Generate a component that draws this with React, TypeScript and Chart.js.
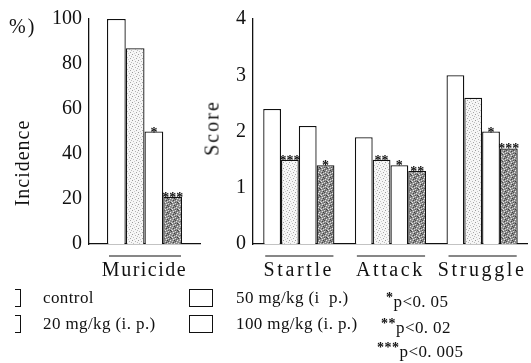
import React, { useEffect, useRef } from "react";
import { Chart, registerables } from "chart.js";

Chart.register(...registerables);

// ---------------- data ----------------
const muricideCategories = ["Muricide"];
const behaviourCategories = ["Startle", "Attack", "Struggle"];
const groupNames = ["control", "20mg/kg (i. p.)", "50mg/kg (i. p.)", "100mg/kg (i. p.)"];

const incidenceControl = [100];
const incidence20 = [87];
const incidence50 = [50];
const incidence100 = [21];

const scoreControl = [2.4, 1.9, 3.0];
const score20 = [1.5, 1.5, 2.6];
const score50 = [2.1, 1.4, 2.0];
const score100 = [1.4, 1.3, 1.7];

const incidenceStars = [[""], [""], ["*"], ["***"]];
const scoreStars = [
  ["", "", ""],
  ["***", "**", ""],
  ["", "*", "*"],
  ["*", "**", "***"],
];

const incidenceTicks = [0, 20, 40, 60, 80, 100];
const scoreTicks = [0, 1, 2, 3, 4];

// ---------------- styling helpers ----------------
const SERIF = "'Liberation Serif', 'Times New Roman', serif";
const INK = "#111";

function makePattern(bg: string, dots: [number, number, string][], size: number) {
  const c = document.createElement("canvas");
  c.width = size;
  c.height = size;
  const g = c.getContext("2d")!;
  g.fillStyle = bg;
  g.fillRect(0, 0, size, size);
  for (const [x, y, col] of dots) {
    g.fillStyle = col;
    g.fillRect(x, y, 1, 1);
  }
  return g.createPattern(c, "repeat")!;
}

function fills() {
  const light = makePattern(
    "#f6f6f6",
    [
      [0, 0, "#9a9a9a"],
      [3, 1, "#b4b4b4"],
      [1, 3, "#c2c2c2"],
      [4, 4, "#a6a6a6"],
      [2, 5, "#cfcfcf"],
      [5, 2, "#bdbdbd"],
    ],
    6
  );
  const dark = makePattern(
    "#8c8c8c",
    [
      [0, 0, "#dddddd"],
      [3, 0, "#474747"],
      [5, 1, "#e8e8e8"],
      [1, 1, "#5a5a5a"],
      [2, 2, "#f0f0f0"],
      [6, 2, "#3c3c3c"],
      [4, 3, "#d0d0d0"],
      [0, 3, "#4e4e4e"],
      [1, 4, "#e4e4e4"],
      [5, 4, "#404040"],
      [3, 5, "#cccccc"],
      [6, 5, "#dadada"],
      [0, 6, "#585858"],
      [2, 6, "#3a3a3a"],
      [4, 6, "#eeeeee"],
      [4, 1, "#a0a0a0"],
    ],
    7
  );
  return ["#ffffff", light, "#ffffff", dark];
}

const decorPlugin = {
  id: "decor",
  afterDatasetsDraw(chart: any, _args: any, opts: any) {
    const ctx = chart.ctx as CanvasRenderingContext2D;
    ctx.save();
    // significance marks
    ctx.fillStyle = INK;
    ctx.font = `bold 14px ${SERIF}`;
    ctx.textAlign = "center";
    ctx.textBaseline = "alphabetic";
    chart.data.datasets.forEach((_ds: any, di: number) => {
      const meta = chart.getDatasetMeta(di);
      meta.data.forEach((bar: any, i: number) => {
        const s = opts.stars[di][i];
        if (s) ctx.fillText(s, bar.x, bar.y + 5);
      });
    });
    // underline under each group
    const n = chart.data.labels.length;
    ctx.strokeStyle = INK;
    ctx.lineWidth = 1.2;
    for (let i = 0; i < n; i++) {
      let lo = Infinity;
      let hi = -Infinity;
      chart.data.datasets.forEach((_ds: any, di: number) => {
        const bar: any = chart.getDatasetMeta(di).data[i];
        lo = Math.min(lo, bar.x - bar.width / 2);
        hi = Math.max(hi, bar.x + bar.width / 2);
      });
      const y = chart.chartArea.bottom + 12;
      ctx.beginPath();
      ctx.moveTo(lo + 2, y);
      ctx.lineTo(hi - 1, y);
      ctx.stroke();
    }
    ctx.restore();
    (ctx as any).letterSpacing = opts.spacing;
  },
  afterDraw(chart: any) {
    (chart.ctx as any).letterSpacing = "0px";
  },
};

function buildChart(
  canvas: HTMLCanvasElement,
  labels: string[],
  series: number[][],
  stars: string[][],
  ticks: number[],
  yWidth: number,
  catPct: number,
  spacing: string,
  padRight: number
) {
  const bg = fills();
  return new Chart(canvas, {
    type: "bar",
    data: {
      labels,
      datasets: series.map((d, i) => ({
        label: groupNames[i],
        data: d,
        backgroundColor: bg[i] as any,
        borderColor: INK,
        borderWidth: 1.3,
        borderSkipped: "bottom",
        barPercentage: 1,
        categoryPercentage: catPct,
      })),
    },
    options: {
      responsive: false,
      maintainAspectRatio: false,
      devicePixelRatio: 1,
      animation: false,
      layout: { padding: { left: 0, right: padRight, top: 15, bottom: 0 } },
      plugins: {
        legend: { display: false },
        tooltip: { enabled: false },
        decor: { stars, spacing },
      } as any,
      scales: {
        x: {
          offset: true,
          grid: { display: false, drawTicks: false },
          border: { display: true, color: INK, width: 1.3 },
          ticks: {
            font: { family: SERIF, size: 20 },
            color: INK,
            padding: 15,
            z: 1,
          } as any,
          afterFit: (s: any) => {
            s.height = 46;
          },
        },
        y: {
          min: ticks[0],
          max: ticks[ticks.length - 1],
          grid: { display: false, drawTicks: false },
          border: { display: true, color: INK, width: 1.3 },
          ticks: {
            font: { family: SERIF, size: 20 },
            color: INK,
            padding: 7,
          },
          afterBuildTicks: (s: any) => {
            s.ticks = ticks.map((v) => ({ value: v }));
          },
          afterFit: (s: any) => {
            s.width = yWidth;
          },
        },
      },
    },
    plugins: [decorPlugin as any],
  });
}

const abs = (o: React.CSSProperties): React.CSSProperties => ({ position: "absolute", whiteSpace: "nowrap", ...o });

export default function App() {
  const leftRef = useRef<HTMLCanvasElement>(null);
  const rightRef = useRef<HTMLCanvasElement>(null);

  useEffect(() => {
    const c1 = buildChart(
      leftRef.current!,
      muricideCategories,
      [incidenceControl, incidence20, incidence50, incidence100],
      incidenceStars,
      incidenceTicks,
      89,
      0.676,
      "1.5px",
      5
    );
    const c2 = buildChart(
      rightRef.current!,
      behaviourCategories,
      [scoreControl, score20, score50, score100],
      scoreStars,
      scoreTicks,
      48,
      0.777,
      "2.6px",
      0
    );
    return () => {
      c1.destroy();
      c2.destroy();
    };
  }, []);

  const legendFont: React.CSSProperties = { fontSize: 17, lineHeight: "20px", letterSpacing: "0.4px" };
  const sup: React.CSSProperties = { fontSize: 14, verticalAlign: "5px", fontWeight: "bold", letterSpacing: "0.5px" };

  return (
    <div
      style={{
        position: "fixed",
        left: 0,
        top: 0,
        width: 531,
        height: 363,
        overflow: "hidden",
        background: "#fff",
        color: INK,
        fontFamily: SERIF,
      }}
    >
      <canvas ref={leftRef} width={205} height={290} style={{ position: "absolute", left: 0, top: 0 }} />
      <canvas ref={rightRef} width={326} height={290} style={{ position: "absolute", left: 205, top: 0 }} />

      {/* axis titles */}
      <div style={abs({ left: 9, top: 15, fontSize: 20, lineHeight: "22px", letterSpacing: "2px" })}>%)</div>
      <div
        style={abs({
          left: 22,
          top: 163,
          fontSize: 20,
          letterSpacing: "1px",
          transform: "translate(-50%, -50%) rotate(-90deg)",
        })}
      >
        Incidence
      </div>
      <div
        style={abs({
          left: 212,
          top: 128,
          fontSize: 20,
          letterSpacing: "2px",
          transform: "translate(-50%, -50%) rotate(-90deg)",
        })}
      >
        Score
      </div>

      {/* legend */}
      <div style={abs({ left: 15, top: 289, width: 5, height: 16, borderTop: `1.5px solid ${INK}`, borderRight: `1.5px solid ${INK}`, borderBottom: `1.5px solid ${INK}` })} />
      <div style={abs({ left: 15, top: 315, width: 5, height: 16, borderTop: `1.5px solid ${INK}`, borderRight: `1.5px solid ${INK}`, borderBottom: `1.5px solid ${INK}` })} />
      <div style={abs({ left: 43, top: 288, ...legendFont })}>control</div>
      <div style={abs({ left: 43, top: 314, ...legendFont })}>20 mg/kg (i. p.)</div>

      <div style={abs({ left: 189, top: 289, width: 22, height: 16, border: `1.5px solid ${INK}` })} />
      <div style={abs({ left: 189, top: 315, width: 22, height: 16, border: `1.5px solid ${INK}` })} />
      <div style={abs({ left: 236, top: 288, ...legendFont })}>50 mg/kg (i&nbsp; p.)</div>
      <div style={abs({ left: 236, top: 314, ...legendFont })}>100 mg/kg (i. p.)</div>

      <div style={abs({ left: 386, top: 288, ...legendFont })}>
        <span style={sup}>*</span>p&lt;0. 05
      </div>
      <div style={abs({ left: 381, top: 314, ...legendFont })}>
        <span style={sup}>**</span>p&lt;0. 02
      </div>
      <div style={abs({ left: 377, top: 338, ...legendFont })}>
        <span style={sup}>***</span>p&lt;0. 005
      </div>
    </div>
  );
}
